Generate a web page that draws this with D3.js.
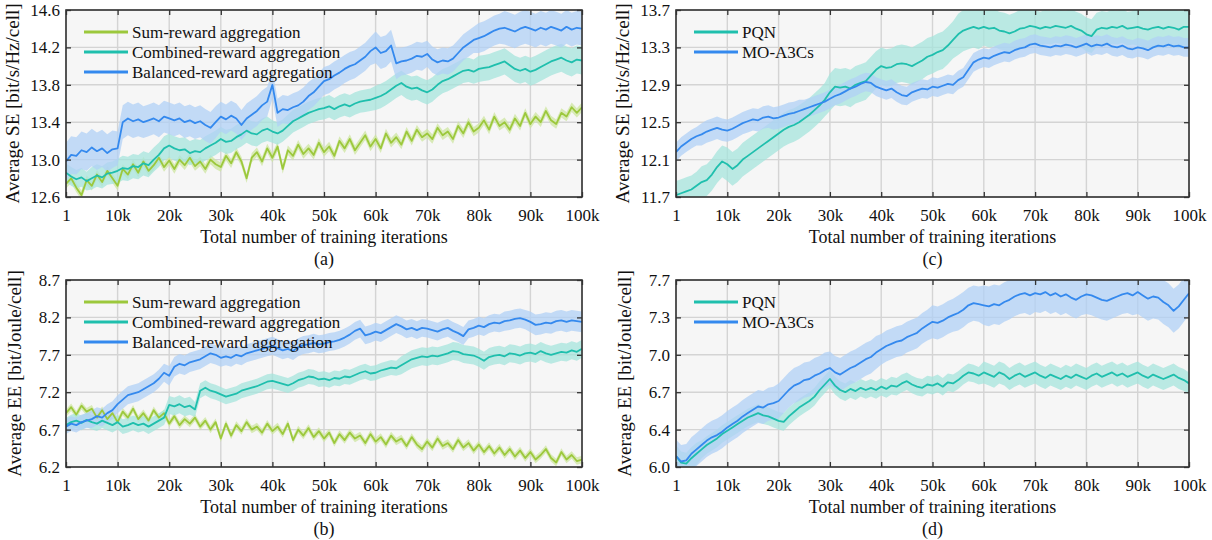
<!DOCTYPE html>
<html><head><meta charset="utf-8">
<script src="https://cdn.jsdelivr.net/npm/d3@7"></script>
<style>body{margin:0;background:#fff}svg text{font-family:"Liberation Serif","Times New Roman",Tinos,Times,"DejaVu Serif",serif;fill:#111}</style>
</head><body><svg id="c" width="1212" height="540"></svg>
<script>
// x: iterations 0..100k in 1k steps
const iters = d3.range(0, 101).map(i => i * 1000);
const xTickVals = [0,10000,20000,30000,40000,50000,60000,70000,80000,90000,100000];
const xTickLabels = ["1","10k","20k","30k","40k","50k","60k","70k","80k","90k","100k"];

// Panel (a) SE
const aSum = [12.74,12.80,12.70,12.62,12.78,12.72,12.84,12.76,12.88,12.80,12.72,12.90,12.84,12.95,12.86,12.98,12.88,12.94,13.02,12.92,12.99,12.90,13.00,12.94,13.02,12.93,12.98,12.90,13.00,12.95,12.92,13.04,12.96,13.08,12.98,12.80,13.02,13.08,12.98,13.12,13.02,13.14,12.90,13.10,13.04,13.16,13.06,13.12,13.05,13.18,13.08,13.14,13.04,13.20,13.12,13.22,13.10,13.18,13.26,13.14,13.22,13.12,13.28,13.18,13.24,13.16,13.30,13.20,13.32,13.24,13.28,13.22,13.34,13.26,13.30,13.22,13.36,13.28,13.40,13.30,13.34,13.42,13.32,13.46,13.36,13.40,13.32,13.44,13.36,13.50,13.38,13.46,13.40,13.52,13.42,13.38,13.50,13.46,13.56,13.50,13.56];
const aCom = [12.86,12.82,12.79,12.81,12.77,12.80,12.83,12.81,12.85,12.86,12.88,12.91,12.90,12.93,12.92,12.96,12.94,13.00,13.05,13.12,13.15,13.12,13.10,13.11,13.07,13.09,13.08,13.12,13.15,13.18,13.22,13.19,13.20,13.24,13.27,13.31,13.28,13.27,13.31,13.33,13.30,13.28,13.31,13.36,13.41,13.44,13.47,13.50,13.52,13.54,13.55,13.57,13.54,13.57,13.59,13.57,13.60,13.62,13.63,13.64,13.66,13.68,13.71,13.75,13.79,13.82,13.78,13.76,13.77,13.74,13.72,13.75,13.80,13.84,13.86,13.89,13.92,13.95,13.96,13.94,13.97,13.98,13.99,14.01,14.03,14.05,14.01,13.97,13.95,13.97,13.94,13.96,13.99,14.02,14.05,14.07,14.09,14.06,14.04,14.07,14.06];
const aBal = [12.98,13.05,13.04,13.10,13.08,13.13,13.09,13.12,13.07,13.11,13.12,13.40,13.44,13.41,13.43,13.40,13.42,13.44,13.41,13.46,13.44,13.42,13.44,13.40,13.42,13.39,13.41,13.37,13.34,13.40,13.46,13.43,13.47,13.44,13.37,13.44,13.48,13.52,13.58,13.62,13.80,13.50,13.54,13.53,13.56,13.58,13.62,13.68,13.72,13.78,13.84,13.86,13.90,13.93,13.97,14.00,14.02,14.06,14.10,14.16,14.20,14.14,14.16,14.22,14.03,14.05,14.06,14.08,14.11,14.10,14.13,14.07,14.04,14.06,14.05,14.08,14.14,14.20,14.24,14.28,14.30,14.32,14.35,14.38,14.40,14.41,14.39,14.37,14.40,14.42,14.40,14.38,14.41,14.39,14.42,14.40,14.38,14.42,14.39,14.41,14.40];
// band half-widths per 5k segment
const aSumBand = [0.05,0.05,0.05,0.05,0.05,0.05,0.05,0.05,0.05,0.05,0.05,0.05,0.05,0.05,0.05,0.05,0.05,0.05,0.05,0.05];
const aComBand = [0.10,0.12,0.13,0.13,0.13,0.13,0.13,0.13,0.12,0.12,0.12,0.12,0.13,0.13,0.13,0.13,0.14,0.14,0.15,0.15];
const aBalBand = [0.20,0.20,0.18,0.17,0.17,0.17,0.16,0.16,0.15,0.15,0.15,0.15,0.17,0.15,0.14,0.14,0.16,0.18,0.18,0.18];

// Panel (b) EE
const bSum = [6.92,7.00,6.90,7.02,6.94,6.98,6.86,6.96,6.84,6.92,6.80,6.94,6.86,6.98,6.84,6.92,6.82,6.96,6.86,6.92,6.78,6.88,6.76,6.84,6.78,6.86,6.74,6.82,6.70,6.80,6.58,6.78,6.62,6.76,6.68,6.80,6.70,6.74,6.66,6.78,6.68,6.74,6.64,6.78,6.56,6.70,6.62,6.72,6.60,6.68,6.58,6.66,6.52,6.64,6.56,6.66,6.58,6.62,6.52,6.64,6.54,6.60,6.50,6.62,6.54,6.58,6.48,6.60,6.50,6.44,6.54,6.46,6.58,6.48,6.52,6.44,6.56,6.46,6.52,6.42,6.50,6.40,6.48,6.38,6.46,6.36,6.44,6.34,6.42,6.32,6.40,6.30,6.36,6.44,6.32,6.26,6.40,6.30,6.36,6.28,6.30];
const bCom = [6.76,6.80,6.82,6.79,6.83,6.80,6.78,6.82,6.79,6.76,6.80,6.74,6.76,6.79,6.76,6.78,6.74,6.78,6.82,6.86,7.03,7.01,7.04,7.00,7.02,6.97,7.22,7.26,7.22,7.20,7.17,7.14,7.16,7.18,7.22,7.24,7.26,7.28,7.31,7.34,7.35,7.33,7.31,7.29,7.32,7.36,7.38,7.41,7.40,7.37,7.38,7.36,7.39,7.38,7.41,7.40,7.43,7.46,7.48,7.45,7.46,7.49,7.51,7.53,7.52,7.56,7.60,7.64,7.66,7.68,7.67,7.69,7.68,7.70,7.72,7.75,7.74,7.71,7.70,7.69,7.66,7.62,7.67,7.69,7.70,7.68,7.72,7.71,7.69,7.72,7.73,7.71,7.75,7.72,7.70,7.72,7.74,7.73,7.76,7.74,7.78];
const bBal = [6.74,6.78,6.76,6.80,6.82,6.84,6.88,6.86,6.92,6.96,7.04,7.10,7.16,7.18,7.20,7.24,7.28,7.32,7.38,7.46,7.42,7.54,7.58,7.56,7.60,7.62,7.64,7.68,7.72,7.70,7.66,7.68,7.66,7.70,7.68,7.72,7.74,7.76,7.78,7.80,7.82,7.79,7.76,7.78,7.75,7.80,7.83,7.84,7.86,7.84,7.85,7.87,7.88,7.90,7.93,7.97,8.02,8.05,7.96,7.98,8.01,7.99,8.03,8.07,8.11,8.08,8.04,8.06,8.03,8.06,8.05,8.03,8.01,8.04,8.06,8.02,7.99,7.95,8.04,8.06,8.09,8.07,8.11,8.13,8.12,8.15,8.16,8.18,8.19,8.17,8.14,8.10,8.11,8.13,8.12,8.15,8.16,8.14,8.16,8.15,8.14];
const bSumBand = [0.05,0.05,0.05,0.05,0.05,0.05,0.05,0.05,0.05,0.05,0.05,0.05,0.05,0.05,0.05,0.05,0.05,0.05,0.05,0.05];
const bComBand = [0.10,0.10,0.10,0.10,0.12,0.10,0.10,0.10,0.10,0.10,0.10,0.10,0.10,0.12,0.12,0.12,0.12,0.12,0.12,0.12];
const bBalBand = [0.10,0.12,0.12,0.12,0.13,0.13,0.12,0.12,0.12,0.12,0.12,0.12,0.12,0.12,0.12,0.12,0.12,0.13,0.14,0.14];

// Panel (c) SE
const cPqn = [11.72,11.74,11.76,11.78,11.82,11.86,11.88,11.94,12.02,12.08,12.05,12.00,12.04,12.10,12.14,12.18,12.22,12.26,12.30,12.34,12.38,12.42,12.45,12.47,12.50,12.54,12.58,12.63,12.68,12.74,12.82,12.88,12.87,12.88,12.86,12.90,12.92,12.94,13.00,13.06,13.10,13.08,13.09,13.12,13.13,13.12,13.10,13.13,13.16,13.20,13.22,13.25,13.27,13.32,13.38,13.44,13.48,13.50,13.52,13.50,13.52,13.50,13.51,13.48,13.47,13.45,13.47,13.50,13.51,13.53,13.52,13.50,13.52,13.51,13.53,13.52,13.51,13.53,13.50,13.48,13.44,13.42,13.49,13.51,13.50,13.52,13.51,13.53,13.50,13.51,13.52,13.50,13.49,13.51,13.52,13.50,13.52,13.51,13.49,13.52,13.52];
const cMo = [12.18,12.24,12.28,12.32,12.35,12.37,12.40,12.42,12.44,12.42,12.41,12.43,12.46,12.49,12.51,12.53,12.52,12.55,12.56,12.54,12.55,12.57,12.59,12.60,12.62,12.64,12.66,12.68,12.70,12.72,12.75,12.78,12.80,12.83,12.86,12.88,12.91,12.93,12.92,12.88,12.86,12.84,12.86,12.82,12.79,12.78,12.82,12.84,12.86,12.85,12.88,12.87,12.89,12.91,12.90,12.95,12.98,13.06,13.14,13.17,13.19,13.18,13.21,13.23,13.25,13.24,13.27,13.29,13.30,13.33,13.34,13.32,13.31,13.30,13.32,13.31,13.33,13.32,13.30,13.32,13.34,13.31,13.33,13.32,13.34,13.31,13.30,13.32,13.29,13.28,13.30,13.29,13.27,13.30,13.32,13.31,13.33,13.31,13.32,13.30,13.30];
const cPqnBand = [0.15,0.17,0.18,0.18,0.18,0.18,0.20,0.20,0.20,0.20,0.20,0.22,0.20,0.20,0.18,0.18,0.18,0.18,0.20,0.20];
const cMoBand = [0.10,0.12,0.12,0.12,0.12,0.10,0.10,0.10,0.10,0.10,0.10,0.10,0.10,0.10,0.10,0.10,0.10,0.10,0.10,0.10];

// Panel (d) EE
const dPqn = [6.10,6.04,6.03,6.08,6.12,6.16,6.20,6.23,6.26,6.30,6.33,6.36,6.39,6.42,6.45,6.47,6.49,6.47,6.46,6.44,6.42,6.41,6.46,6.50,6.54,6.57,6.60,6.64,6.70,6.75,6.80,6.74,6.70,6.68,6.71,6.69,6.72,6.70,6.72,6.70,6.73,6.71,6.74,6.73,6.76,6.78,6.75,6.73,6.72,6.75,6.74,6.76,6.73,6.77,6.76,6.79,6.83,6.86,6.85,6.83,6.86,6.84,6.82,6.86,6.84,6.80,6.83,6.85,6.82,6.84,6.86,6.83,6.81,6.84,6.82,6.80,6.83,6.81,6.84,6.82,6.80,6.83,6.85,6.82,6.84,6.86,6.83,6.85,6.82,6.84,6.86,6.83,6.81,6.84,6.82,6.80,6.82,6.84,6.81,6.79,6.76];
const dMo = [6.10,6.05,6.06,6.12,6.16,6.20,6.24,6.27,6.29,6.32,6.36,6.39,6.42,6.46,6.49,6.52,6.55,6.54,6.57,6.58,6.60,6.65,6.70,6.74,6.76,6.79,6.80,6.83,6.85,6.88,6.90,6.86,6.84,6.87,6.90,6.92,6.95,6.98,7.00,7.04,7.07,7.10,7.12,7.14,7.15,7.18,7.20,7.22,7.26,7.29,7.32,7.31,7.33,7.36,7.38,7.40,7.43,7.47,7.49,7.48,7.47,7.46,7.48,7.47,7.50,7.52,7.55,7.57,7.58,7.56,7.58,7.57,7.59,7.56,7.58,7.55,7.57,7.54,7.52,7.55,7.57,7.56,7.54,7.52,7.51,7.53,7.55,7.57,7.58,7.56,7.59,7.56,7.53,7.55,7.54,7.50,7.47,7.42,7.46,7.52,7.58];
const dPqnBand = [0.10,0.08,0.08,0.08,0.08,0.08,0.08,0.08,0.08,0.08,0.08,0.08,0.10,0.10,0.10,0.10,0.10,0.10,0.10,0.10];
const dMoBand = [0.15,0.15,0.15,0.15,0.16,0.16,0.15,0.15,0.14,0.14,0.15,0.16,0.18,0.18,0.17,0.17,0.18,0.18,0.20,0.20];

const aYTicks = ["12.6","13.0","13.4","13.8","14.2","14.6"];
const bYTicks = ["6.2","6.7","7.2","7.7","8.2","8.7"];
const cYTicks = ["11.7","12.1","12.5","12.9","13.3","13.7"];
const dYTicks = ["6.0","6.4","6.7","7.0","7.3","7.7"];

const aNames = ["Sum-reward aggregation","Combined-reward aggregation","Balanced-reward aggregation"];
const cNames = ["PQN","MO-A3Cs"];

const C = {green:"#9cc83c", teal:"#1fbfad", blue:"#3489ee"};
const F = {green:"#cde6a0", teal:"#a6e4dc", blue:"#b0d0f5"};
const FONT = '"Liberation Serif","Times New Roman",Tinos,Times,"DejaVu Serif",serif';

const svg = d3.select("#c");

function panel(o){
  const w = o.x1 - o.x0, h = o.y1 - o.y0;
  const g = svg.append("g").attr("transform", `translate(${o.x0},${o.y0})`);
  const x = d3.scaleLinear().domain([0,100000]).range([0,w]);
  const y = d3.scaleLinear().domain(o.dom).range([h,0]);
  const yTickVals = d3.range(6).map(i => o.dom[0] + i*(o.dom[1]-o.dom[0])/5);
  const id = "clip" + o.tag;
  g.append("clipPath").attr("id", id).append("rect").attr("width", w).attr("height", h);
  g.append("rect").attr("width", w).attr("height", h).attr("fill", "#f6f6f6");
  // grid
  g.selectAll(".gx").data(xTickVals).join("line").attr("x1", d=>x(d)).attr("x2", d=>x(d))
    .attr("y1",0).attr("y2",h).attr("stroke","#d4d4d4").attr("stroke-width",1.4);
  g.selectAll(".gy").data(yTickVals).join("line").attr("y1", d=>y(d)).attr("y2", d=>y(d))
    .attr("x1",0).attr("x2",w).attr("stroke","#d4d4d4").attr("stroke-width",1.4);
  const plot = g.append("g").attr("clip-path", `url(#${id})`);
  const area = band => d3.area().x((d,i)=>x(iters[i]))
      .y0((d,i)=>y(d - band[Math.min(19, Math.floor(i/5))]))
      .y1((d,i)=>y(d + band[Math.min(19, Math.floor(i/5))]));
  o.series.forEach(s => {
    plot.append("path").attr("d", area(s.band)(s.v)).attr("fill", F[s.c]).attr("opacity", 0.75);
  });
  const line = d3.line().x((d,i)=>x(iters[i])).y(d=>y(d));
  o.series.forEach(s => {
    plot.append("path").attr("d", line(s.v)).attr("fill","none").attr("stroke", C[s.c]).attr("stroke-width",1.8).attr("stroke-linejoin","round");
  });
  // ticks inward on all sides
  const tk = 5;
  const axB = g.append("g").attr("transform",`translate(0,${h})`)
    .call(d3.axisBottom(x).tickValues(xTickVals).tickFormat((d,i)=>xTickLabels[i]).tickSizeInner(-tk).tickSizeOuter(0).tickPadding(12));
  const axT = g.append("g").call(d3.axisTop(x).tickValues(xTickVals).tickFormat("").tickSizeInner(-tk).tickSizeOuter(0));
  const axL = g.append("g").call(d3.axisLeft(y).tickValues(yTickVals).tickFormat((d,i)=>o.yt[i]).tickSizeInner(-tk).tickSizeOuter(0).tickPadding(6));
  const axR = g.append("g").attr("transform",`translate(${w},0)`).call(d3.axisRight(y).tickValues(yTickVals).tickFormat("").tickSizeInner(-tk).tickSizeOuter(0));
  [axB,axT,axL,axR].forEach(a=>{
    a.attr("font-family", FONT);
    a.select(".domain").remove();
    a.selectAll(".tick line").attr("stroke","#333").attr("stroke-width",1.3);
    a.selectAll("text").attr("font-size",17).attr("font-family",FONT).attr("fill","#111");
  });
  g.append("rect").attr("width", w).attr("height", h).attr("fill","none").attr("stroke","#333").attr("stroke-width",1.6);
  // titles
  g.append("text").attr("x", w/2).attr("y", h+46).attr("text-anchor","middle").attr("font-family",FONT).attr("font-size",18).text("Total number of training iterations");
  g.append("text").attr("x", w/2).attr("y", h+68).attr("text-anchor","middle").attr("font-family",FONT).attr("font-size",18).text(o.label);
  g.append("text").attr("transform",`translate(${o.ytx},${h/2}) rotate(-90)`).attr("text-anchor","middle").attr("font-family",FONT).attr("font-size",19).text(o.ytitle);
  // legend
  o.legend.forEach((L,i)=>{
    const ly = 22 + i*20;
    g.append("line").attr("x1",18).attr("x2",62).attr("y1",ly).attr("y2",ly).attr("stroke",C[L.c]).attr("stroke-width",3);
    g.append("text").attr("x",66).attr("y",ly+5.5).attr("font-family",FONT).attr("font-size",17).text(L.n);
  });
}

panel({tag:"a", x0:66, x1:582, y0:10, y1:197, dom:[12.6,14.6], yt:aYTicks, ytx:-47, label:"(a)",
  ytitle:"Average SE [bit/s/Hz/cell]",
  series:[{v:aSum,band:aSumBand,c:"green"},{v:aCom,band:aComBand,c:"teal"},{v:aBal,band:aBalBand,c:"blue"}],
  legend:[{n:aNames[0],c:"green"},{n:aNames[1],c:"teal"},{n:aNames[2],c:"blue"}]});
panel({tag:"b", x0:66, x1:582, y0:280, y1:467, dom:[6.2,8.7], yt:bYTicks, ytx:-45, label:"(b)",
  ytitle:"Average EE [bit/Joule/cell]",
  series:[{v:bSum,band:bSumBand,c:"green"},{v:bCom,band:bComBand,c:"teal"},{v:bBal,band:bBalBand,c:"blue"}],
  legend:[{n:aNames[0],c:"green"},{n:aNames[1],c:"teal"},{n:aNames[2],c:"blue"}]});
panel({tag:"c", x0:676, x1:1189, y0:10, y1:197, dom:[11.7,13.7], yt:cYTicks, ytx:-47, label:"(c)",
  ytitle:"Average SE [bit/s/Hz/cell]",
  series:[{v:cPqn,band:cPqnBand,c:"teal"},{v:cMo,band:cMoBand,c:"blue"}],
  legend:[{n:cNames[0],c:"teal"},{n:cNames[1],c:"blue"}]});
panel({tag:"d", x0:676, x1:1189, y0:280, y1:467, dom:[6.0,7.7], yt:dYTicks, ytx:-45, label:"(d)",
  ytitle:"Average EE [bit/Joule/cell]",
  series:[{v:dPqn,band:dPqnBand,c:"teal"},{v:dMo,band:dMoBand,c:"blue"}],
  legend:[{n:cNames[0],c:"teal"},{n:cNames[1],c:"blue"}]});
</script></body></html>
